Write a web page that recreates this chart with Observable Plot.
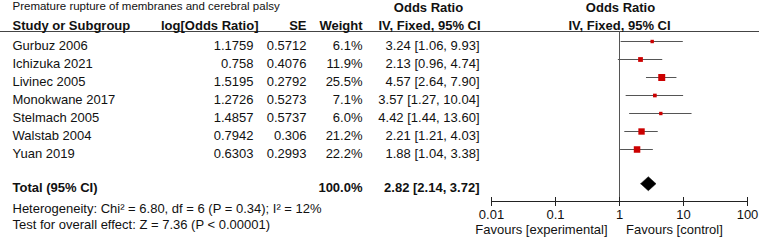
<!DOCTYPE html>
<html>
<head>
<meta charset="utf-8">
<script src="https://cdn.jsdelivr.net/npm/d3@7"></script>
<script src="https://cdn.jsdelivr.net/npm/@observablehq/plot@0.6"></script>
<style>
  html, body { margin: 0; padding: 0; background: #fff; }
  #chart { width: 759px; height: 240px; }
</style>
</head>
<body>
<div id="chart"></div>
<script>
// ---- data ----
const title = "Premature rupture of membranes and cerebral palsy";
const studies = ["Gurbuz 2006", "Ichizuka 2021", "Livinec 2005", "Monokwane 2017", "Stelmach 2005", "Walstab 2004", "Yuan 2019"];
const logOR = [1.1759, 0.758, 1.5195, 1.2726, 1.4857, 0.7942, 0.6303];
const se = [0.5712, 0.4076, 0.2792, 0.5273, 0.5737, 0.306, 0.2993];
const weight = [6.1, 11.9, 25.5, 7.1, 6.0, 21.2, 22.2];
const oddsRatio = [3.24, 2.13, 4.57, 3.57, 4.42, 2.21, 1.88];
const ciLow = [1.06, 0.96, 2.64, 1.27, 1.44, 1.21, 1.04];
const ciHigh = [9.93, 4.74, 7.90, 10.04, 13.60, 4.03, 3.38];
const totalLabel = "Total (95% CI)";
const totalWeight = 100.0;
const totalOR = 2.82, totalLow = 2.14, totalHigh = 3.72;
const heterogeneity = "Heterogeneity: Chi² = 6.80, df = 6 (P = 0.34); I² = 12%";
const overallTest = "Test for overall effect: Z = 7.36 (P < 0.00001)";
const axisTicks = [0.01, 0.1, 1, 10, 100];
const favoursLeft = "Favours [experimental]";
const favoursRight = "Favours [control]";

// ---- layout ----
const W = 759, H = 240, mTop = 31, mBottom = 39;
const xLeft = 491, xRight = 747;
const totalRow = 7.9;
const fs = 13;
const font = "'Liberation Sans', Arial, Helvetica, sans-serif";
const ink = "#111";
const fmtCI = (o, l, h) => `${o.toFixed(2)} [${l.toFixed(2)}, ${h.toFixed(2)}]`;

const rows = studies.map((s, i) => ({
  row: i, study: s, logOR: String(logOR[i]), se: String(se[i]),
  weight: weight[i], wText: weight[i].toFixed(1) + "%",
  or: oddsRatio[i], lo: ciLow[i], hi: ciHigh[i],
  orText: fmtCI(oddsRatio[i], ciLow[i], ciHigh[i])
}));
const total = {row: totalRow, label: totalLabel, wText: totalWeight.toFixed(1) + "%",
  or: totalOR, lo: totalLow, hi: totalHigh, orText: fmtCI(totalOR, totalLow, totalHigh)};
const dh = 0.39;
const diamond = [
  {x: total.lo, y: totalRow}, {x: total.or, y: totalRow - dh},
  {x: total.hi, y: totalRow}, {x: total.or, y: totalRow + dh}, {x: total.lo, y: totalRow}
];

const colText = (data, text, dx, opts = {}) =>
  Plot.text(data, {y: "row", text, frameAnchor: "left", lineAnchor: "middle", dx, dy: 4, textAnchor: "end", fill: ink, fontSize: fs, ...opts});
const headText = (str, x, dy, opts = {}) =>
  Plot.text([str], {text: d => d, frameAnchor: "top-left", lineAnchor: "middle", dx: x, dy, fill: ink, fontSize: fs, fontWeight: "bold", ...opts});
const oneText = (str, opts) => Plot.text([str], {text: d => d, lineAnchor: "middle", fill: ink, fontSize: fs, ...opts});

const chart = Plot.plot({
  width: W, height: H,
  marginTop: mTop, marginBottom: mBottom, marginLeft: 0, marginRight: 0,
  style: {fontFamily: font, fontSize: fs + "px", color: ink, background: "#fff"},
  x: {type: "log", domain: [axisTicks[0], axisTicks[axisTicks.length - 1]], range: [xLeft, xRight]},
  y: {domain: [0, 1], range: [41, 59], axis: null},
  r: {type: "sqrt", domain: [0, 100], range: [0, 7.8]},
  marks: [
    // header rule (full width)
    Plot.frame({anchor: "top", stroke: "#444", strokeWidth: 1}),
    // line of no effect
    Plot.ruleX([1], {stroke: "#555", strokeWidth: 1}),
    // axis line and ticks
    Plot.frame({anchor: "bottom", insetLeft: xLeft, insetRight: W - xRight, stroke: "#222"}),
    Plot.ruleX(axisTicks, {x: d => d, insetTop: H - mTop - mBottom - 4, stroke: "#222"}),
    Plot.axisX({ticks: axisTicks, tickFormat: d => String(d), tickSize: 5, tickPadding: 3, stroke: "#222", fill: ink, fontSize: fs}),
    // CIs and markers
    Plot.ruleY(rows, {y: "row", x1: "lo", x2: "hi", stroke: "#555", strokeWidth: 1}),
    Plot.dot(rows, {x: "or", y: "row", r: "weight", symbol: "square", fill: "#cc0000", stroke: null}),
    Plot.line(diamond, {x: "x", y: "y", fill: "#000", stroke: "#000", strokeWidth: 0.5, curve: "linear"}),
    // title and headers
    oneText(title, {frameAnchor: "top-left", dx: 12, dy: -25, fontSize: 11.5, textAnchor: "start"}),
    headText("Study or Subgroup", 12, -6, {textAnchor: "start"}),
    headText("log[Odds Ratio]", 258, -6, {textAnchor: "end"}),
    headText("SE", 306, -6, {textAnchor: "end"}),
    headText("Weight", 362, -6, {textAnchor: "end"}),
    headText("Odds Ratio", 428, -24, {textAnchor: "middle"}),
    headText("IV, Fixed, 95% CI", 429, -6, {textAnchor: "middle"}),
    oneText("Odds Ratio", {x: () => 1, frameAnchor: "top", dx: 1, dy: -24, fontWeight: "bold", textAnchor: "middle"}),
    oneText("IV, Fixed, 95% CI", {x: () => 1, frameAnchor: "top", dy: -6, fontWeight: "bold", textAnchor: "middle"}),
    // table columns
    colText(rows, "study", 12, {textAnchor: "start"}),
    colText(rows, "logOR", 253),
    colText(rows, "se", 306),
    colText(rows, "wText", 362),
    colText(rows, "orText", 479),
    colText([total], "label", 12, {textAnchor: "start", fontWeight: "bold"}),
    colText([total], "wText", 362, {fontWeight: "bold"}),
    colText([total], "orText", 479, {fontWeight: "bold"}),
    // footnotes
    oneText(heterogeneity, {frameAnchor: "bottom-left", dx: 12, dy: 7.5, textAnchor: "start"}),
    oneText(overallTest, {frameAnchor: "bottom-left", dx: 12, dy: 23.5, textAnchor: "start"}),
    // favours labels
    oneText(favoursLeft, {x: () => 1, frameAnchor: "bottom", dx: -12, dy: 28, textAnchor: "end"}),
    oneText(favoursRight, {x: () => 1, frameAnchor: "bottom", dx: 6.5, dy: 28, textAnchor: "start"})
  ]
});
document.getElementById("chart").append(chart);
</script>
</body>
</html>
